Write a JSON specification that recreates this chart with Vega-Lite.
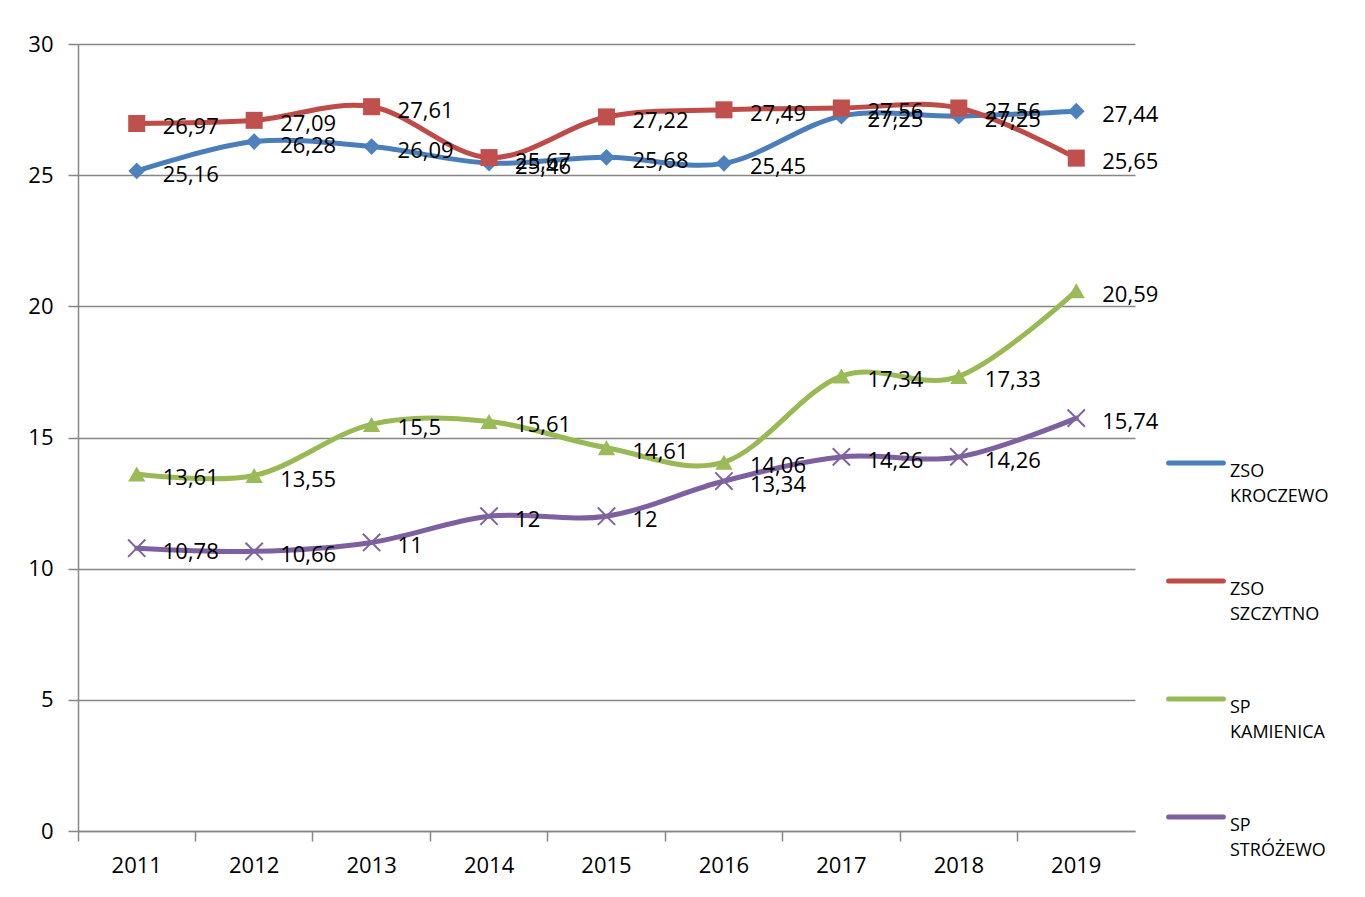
{
  "$schema": "https://vega.github.io/schema/vega-lite/v6.json",
  "autosize": {"type": "none"},
  "width": 1057,
  "height": 787,
  "padding": {"left": 78, "top": 44, "right": 230, "bottom": 66},
  "background": "white",
  "config": {
    "view": {"stroke": null},
    "font": "Open Sans",
    "locale": {"number": {"decimal": ",", "thousands": " ", "grouping": [3], "currency": ["", " zł"]}}
  },
  "data": {
    "values": [
      {"year": "2011", "series": "ZSO KROCZEWO", "value": 25.16},
      {"year": "2012", "series": "ZSO KROCZEWO", "value": 26.28},
      {"year": "2013", "series": "ZSO KROCZEWO", "value": 26.09},
      {"year": "2014", "series": "ZSO KROCZEWO", "value": 25.46},
      {"year": "2015", "series": "ZSO KROCZEWO", "value": 25.68},
      {"year": "2016", "series": "ZSO KROCZEWO", "value": 25.45},
      {"year": "2017", "series": "ZSO KROCZEWO", "value": 27.25},
      {"year": "2018", "series": "ZSO KROCZEWO", "value": 27.25},
      {"year": "2019", "series": "ZSO KROCZEWO", "value": 27.44},
      {"year": "2011", "series": "ZSO SZCZYTNO", "value": 26.97},
      {"year": "2012", "series": "ZSO SZCZYTNO", "value": 27.09},
      {"year": "2013", "series": "ZSO SZCZYTNO", "value": 27.61},
      {"year": "2014", "series": "ZSO SZCZYTNO", "value": 25.67},
      {"year": "2015", "series": "ZSO SZCZYTNO", "value": 27.22},
      {"year": "2016", "series": "ZSO SZCZYTNO", "value": 27.49},
      {"year": "2017", "series": "ZSO SZCZYTNO", "value": 27.56},
      {"year": "2018", "series": "ZSO SZCZYTNO", "value": 27.56},
      {"year": "2019", "series": "ZSO SZCZYTNO", "value": 25.65},
      {"year": "2011", "series": "SP KAMIENICA", "value": 13.61},
      {"year": "2012", "series": "SP KAMIENICA", "value": 13.55},
      {"year": "2013", "series": "SP KAMIENICA", "value": 15.5},
      {"year": "2014", "series": "SP KAMIENICA", "value": 15.61},
      {"year": "2015", "series": "SP KAMIENICA", "value": 14.61},
      {"year": "2016", "series": "SP KAMIENICA", "value": 14.06},
      {"year": "2017", "series": "SP KAMIENICA", "value": 17.34},
      {"year": "2018", "series": "SP KAMIENICA", "value": 17.33},
      {"year": "2019", "series": "SP KAMIENICA", "value": 20.59},
      {"year": "2011", "series": "SP STRÓŻEWO", "value": 10.78},
      {"year": "2012", "series": "SP STRÓŻEWO", "value": 10.66},
      {"year": "2013", "series": "SP STRÓŻEWO", "value": 11},
      {"year": "2014", "series": "SP STRÓŻEWO", "value": 12},
      {"year": "2015", "series": "SP STRÓŻEWO", "value": 12},
      {"year": "2016", "series": "SP STRÓŻEWO", "value": 13.34},
      {"year": "2017", "series": "SP STRÓŻEWO", "value": 14.26},
      {"year": "2018", "series": "SP STRÓŻEWO", "value": 14.26},
      {"year": "2019", "series": "SP STRÓŻEWO", "value": 15.74}
    ]
  },
  "encoding": {
    "x": {
      "field": "year", "type": "ordinal", "title": null,
      "scale": {"type": "band", "paddingInner": 0, "paddingOuter": 0},
      "axis": {
        "bandPosition": 0, "labelAngle": 0, "labelFontSize": 22, "labelColor": "#000000",
        "labelPadding": 14, "tickSize": 10, "tickColor": "#868686", "tickWidth": 1.5,
        "domainColor": "#868686", "domainWidth": 1.5, "grid": false
      }
    },
    "y": {
      "field": "value", "type": "quantitative", "title": null,
      "scale": {"domain": [0, 30], "nice": false},
      "axis": {
        "values": [0, 5, 10, 15, 20, 25, 30], "labelFontSize": 22, "labelColor": "#000000",
        "labelPadding": 15, "tickSize": 10, "tickColor": "#868686", "tickWidth": 1.5,
        "domainColor": "#868686", "domainWidth": 1.5,
        "grid": true, "gridColor": "#868686", "gridWidth": 1.5
      }
    }
  },
  "layer": [
    {
      "mark": {"type": "line", "interpolate": "cardinal", "strokeWidth": 5, "strokeCap": "round"},
      "encoding": {
        "color": {
          "field": "series", "type": "nominal",
          "scale": {
            "domain": ["ZSO KROCZEWO", "ZSO SZCZYTNO", "SP KAMIENICA", "SP STRÓŻEWO"],
            "range": ["#4A7EBB", "#BE4B48", "#98B954", "#7D60A0"]
          },
          "legend": {
            "title": null, "orient": "none", "legendX": 1088, "legendY": 389,
            "symbolType": "stroke", "symbolSize": 3000, "symbolStrokeWidth": 5,
            "labelFontSize": 18, "labelColor": "#000000", "labelFont": "Open Sans",
            "labelExpr": "split(datum.label, ' ')", "labelLineHeight": 25,
            "labelBaseline": "top", "labelOffset": 4,
            "rowPadding": 45,
            "encode": {
              "symbols": {"update": {"strokeCap": {"value": "round"}}},
              "labels": {"update": {"lineHeight": {"value": 25}}}
            }
          }
        }
      }
    },
    {
      "transform": [{"filter": "datum.series === 'ZSO KROCZEWO'"}],
      "mark": {"type": "point", "shape": "diamond", "filled": true, "opacity": 1, "size": 280, "color": "#4F81BD"}
    },
    {
      "transform": [{"filter": "datum.series === 'ZSO SZCZYTNO'"}],
      "mark": {"type": "point", "shape": "square", "filled": true, "opacity": 1, "size": 290, "color": "#C0504D"}
    },
    {
      "transform": [{"filter": "datum.series === 'SP KAMIENICA'"}],
      "mark": {"type": "point", "shape": "triangle-up", "filled": true, "opacity": 1, "size": 300, "color": "#9BBB59"}
    },
    {
      "transform": [{"filter": "datum.series === 'SP STRÓŻEWO'"}],
      "mark": {"type": "point", "shape": "M-1,-1L1,1M-1,1L1,-1", "filled": false, "opacity": 1, "size": 300, "strokeWidth": 2, "color": "#8064A2"}
    },
    {
      "mark": {"type": "text", "align": "left", "baseline": "middle", "dx": 26, "dy": 4, "fontSize": 22, "color": "#000000"},
      "encoding": {
        "text": {"field": "value", "type": "quantitative", "format": "~r"}
      }
    }
  ]
}
